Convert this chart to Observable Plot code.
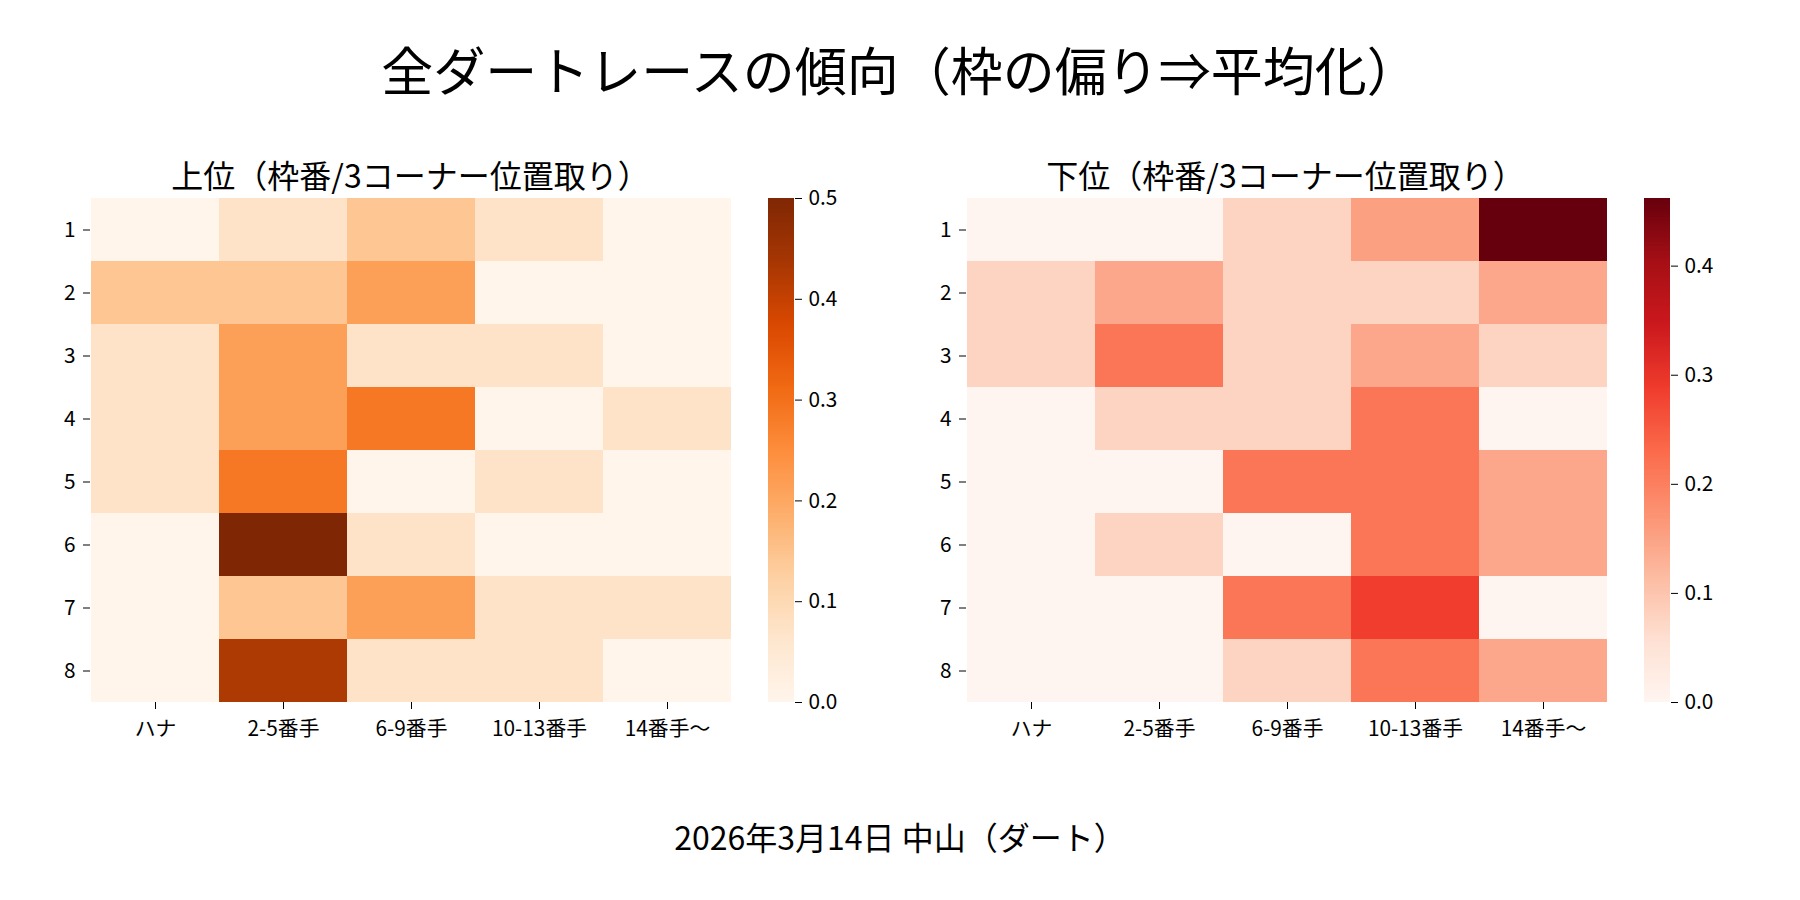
<!DOCTYPE html>
<html>
<head>
<meta charset="utf-8">
<script src="https://cdn.jsdelivr.net/npm/d3@7"></script>
<script src="https://cdn.jsdelivr.net/npm/@observablehq/plot@0.6"></script>
<style>
  body { margin: 0; background: white; }
  #root { position: relative; width: 1800px; height: 900px; background: white; overflow: hidden; font-family: "Noto Sans CJK JP", sans-serif; color: black; }
  .txt { position: absolute; line-height: 1; white-space: nowrap; text-align: center; }
  .abs { position: absolute; top: 0; }
</style>
</head>
<body>
<div id="root"></div>
<script>
// ---- data ----
const mainTitle = "全ダートレースの傾向（枠の偏り⇒平均化）";
const leftTitle = "上位（枠番/3コーナー位置取り）";
const rightTitle = "下位（枠番/3コーナー位置取り）";
const footnote = "2026年3月14日 中山（ダート）";
const categories = ["ハナ", "2-5番手", "6-9番手", "10-13番手", "14番手〜"];
const waku = [1, 2, 3, 4, 5, 6, 7, 8];
const upperRows = [
  [0, 0.0714, 0.1429, 0.0714, 0],
  [0.1429, 0.1429, 0.2143, 0, 0],
  [0.0714, 0.2143, 0.0714, 0.0714, 0],
  [0.0714, 0.2143, 0.2857, 0, 0.0714],
  [0.0714, 0.2857, 0, 0.0714, 0],
  [0, 0.5, 0.0714, 0, 0],
  [0, 0.1429, 0.2143, 0.0714, 0.0714],
  [0, 0.4286, 0.0714, 0.0714, 0]
];
const lowerRows = [
  [0, 0, 0.077, 0.154, 0.462],
  [0.077, 0.143, 0.077, 0.077, 0.143],
  [0.077, 0.214, 0.077, 0.143, 0.077],
  [0, 0.077, 0.077, 0.214, 0],
  [0, 0, 0.214, 0.214, 0.143],
  [0, 0.077, 0, 0.214, 0.143],
  [0, 0, 0.214, 0.286, 0],
  [0, 0, 0.077, 0.214, 0.143]
];
const leftTicks = [0, 0.1, 0.2, 0.3, 0.4, 0.5];
const rightTicks = [0, 0.1, 0.2, 0.3, 0.4];
const orangesColors = ["#fff5eb","#fee6ce","#fdd0a2","#fdae6b","#fd8d3c","#f16913","#d94801","#a63603","#7f2704"];
const redsColors = ["#fff5f0","#fee0d2","#fcbba1","#fc9272","#fb6a4a","#ef3b2c","#cb181d","#a50f15","#67000d"];

// ---- helpers ----
const style = { fontSize: "20.8px", fontFamily: "Noto Sans CJK JP, sans-serif", background: "transparent", color: "black", overflow: "visible" };
function colorScale(colors, vmax) {
  return { type: "linear", domain: colors.map((c, i) => i / (colors.length - 1) * vmax), range: colors, interpolate: "rgb" };
}
function heat(rows, colors) {
  const data = rows.flatMap((r, i) => r.map((v, j) => ({ waku: waku[i], pos: categories[j], value: v })));
  const vmax = d3.max(data, d => d.value);
  return Plot.plot({
    width: 760, height: 800, marginTop: 198, marginBottom: 98, marginLeft: 90, marginRight: 29,
    style,
    x: { domain: categories, padding: 0, tickSize: 7, tickPadding: 12, label: null },
    y: { domain: waku, padding: 0, tickSize: 7, tickPadding: 8, label: null },
    color: colorScale(colors, vmax),
    marks: [Plot.cell(data, { x: "pos", y: "waku", fill: "value", inset: 0, shapeRendering: "crispEdges" })]
  });
}
function bar(rows, colors, ticks) {
  const vmax = d3.max(rows.flat());
  const N = 240;
  const idx = d3.range(N);
  return Plot.plot({
    width: 100, height: 800, marginTop: 198, marginBottom: 98, marginLeft: 0, marginRight: 74,
    style,
    x: { domain: [0, 1], axis: null },
    y: { domain: [0, vmax], axis: "right", ticks, tickFormat: d3.format(".1f"), tickSize: 7, tickPadding: 7, label: null },
    color: colorScale(colors, vmax),
    marks: [Plot.rect(idx, { x1: 0, x2: 1, y1: i => i / N * vmax, y2: i => (i + 1) / N * vmax, fill: i => (i + 0.5) / N * vmax, shapeRendering: "crispEdges" })]
  });
}
function place(el, left) { el.classList.add("abs"); el.style.left = left + "px"; root.appendChild(el); }
function text(str, cx, top, size, width) {
  const d = document.createElement("div");
  d.className = "txt";
  d.textContent = str;
  d.style.fontSize = size + "px";
  d.style.top = top + "px";
  d.style.width = width + "px";
  d.style.left = (cx - width / 2) + "px";
  root.appendChild(d);
}

const root = document.getElementById("root");
place(heat(upperRows, orangesColors), 0);
place(bar(upperRows, orangesColors, leftTicks), 768);
place(heat(lowerRows, redsColors), 876);
place(bar(lowerRows, redsColors, rightTicks), 1644);

text(mainTitle, 900, 43, 52, 1600);
text(leftTitle, 410.5, 158, 32, 800);
text(rightTitle, 1285.5, 158, 32, 800);
text(footnote, 900, 820, 32, 1000);
</script>
</body>
</html>
